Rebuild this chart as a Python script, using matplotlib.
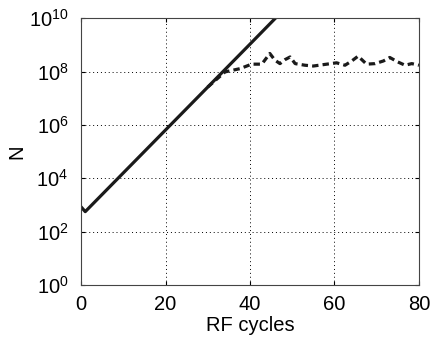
import numpy as np
import matplotlib.pyplot as plt

plt.rcParams['font.family'] = ['Liberation Sans', 'DejaVu Sans']
plt.rcParams['mathtext.fontset'] = 'custom'
plt.rcParams['mathtext.rm'] = 'Liberation Sans'
plt.rcParams['mathtext.it'] = 'Liberation Sans:italic'
plt.rcParams['mathtext.bf'] = 'Liberation Sans:bold'

# solid curve: RF cycle vs log10(N)
solid_x = [0, 1, 10, 20, 30, 40, 46]
solid_logn = [2.93, 2.75, 4.2, 5.81, 7.42, 9.03, 10.0]

# dashed curve: RF cycle vs log10(N)
dash_x = [30, 32, 34.1, 37.6, 40.4, 42.8, 44.7, 45.9, 47.1, 48.3, 49.5, 50.7, 53, 55,
          58.2, 60.5, 62.5, 64.1, 65.6, 67.6, 69.6, 71.6, 73.1, 74.9, 76.7, 78.3, 80]
dash_logn = [7.42, 7.7, 7.99, 8.11, 8.28, 8.28, 8.68, 8.43, 8.3, 8.45, 8.55, 8.3, 8.24, 8.21,
             8.28, 8.33, 8.24, 8.4, 8.58, 8.28, 8.3, 8.4, 8.53, 8.37, 8.24, 8.3, 8.24]

xticks = [0, 20, 40, 60, 80]
yticks = [1e0, 1e2, 1e4, 1e6, 1e8, 1e10]

fig = plt.figure(figsize=(4.31, 3.45), dpi=100)
ax = fig.add_axes([0.188, 0.174, 0.784, 0.773])

ax.plot(dash_x, 10 ** np.array(dash_logn), color='#1a1a1a', lw=2.3, ls=(0, (2, 1.3)))
ax.plot(solid_x, 10 ** np.array(solid_logn), color='#1a1a1a', lw=2.3)

ax.set_yscale('log')
ax.set_xlim(0, 80)
ax.set_ylim(1, 1e10)
ax.set_xticks(xticks)
ax.set_yticks(yticks)
ax.minorticks_off()
ax.tick_params(direction='in', top=True, right=True, labelsize=14.5, length=3)
ax.tick_params(axis='x', pad=7)
ax.tick_params(axis='y', pad=9)
ax.grid(True, ls=(0, (1, 3)), color='black', lw=0.7)
for s in ax.spines.values():
    s.set_color('#444444')
    s.set_linewidth(0.8)

ax.set_xlabel('RF cycles', fontsize=14.5, labelpad=2)
ax.set_ylabel('N', fontsize=14.5, labelpad=2)

fig.savefig('out.png', dpi=100)
